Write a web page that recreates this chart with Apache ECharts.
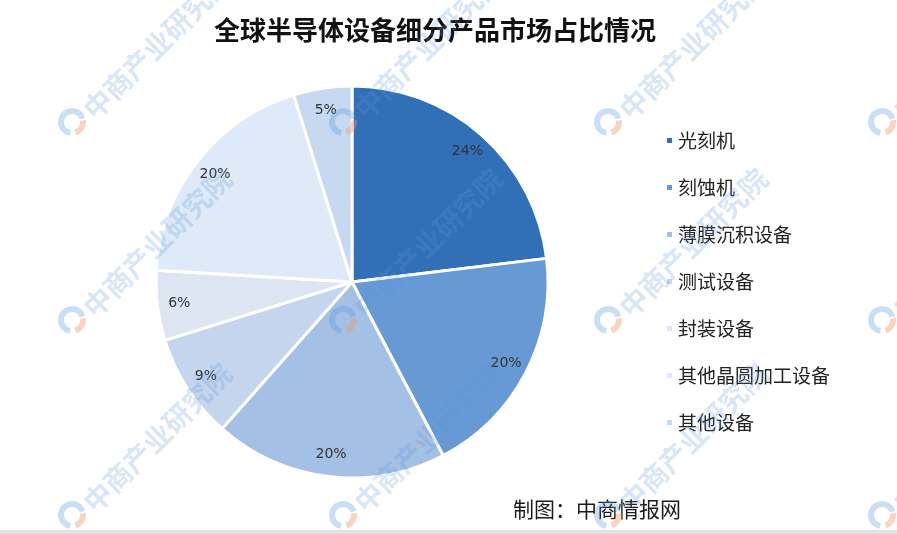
<!DOCTYPE html>
<html>
<head>
<meta charset="utf-8">
<script src="https://cdn.jsdelivr.net/npm/echarts@6/dist/echarts.min.js"></script>
<style>
html,body{margin:0;padding:0;background:#fff;}
#chart{width:897px;height:534px;}
</style>
</head>
<body>
<div id="chart"></div>
<script>
var titleText = '全球半导体设备细分产品市场占比情况';
var sourceText = '制图：中商情报网';
var categories = ['光刻机', '刻蚀机', '薄膜沉积设备', '测试设备', '封装设备', '其他晶圆加工设备', '其他设备'];
var values = [24, 20, 20, 9, 6, 20, 5];
var colors = ['#3170B7', '#6799D5', '#A4C0E5', '#C4D5ED', '#DDE5F2', '#DEEAF8', '#C7D9F0'];
var watermarkText = '中商产业研究院';
var wmCols = [72, 343, 608, 882];
var wmRows = [122, 320, 515];

var chart = echarts.init(document.getElementById('chart'));
var FONT = '"Noto Sans CJK SC", "Noto Sans", sans-serif';

var graphics = [];
wmRows.forEach(function (y) {
  wmCols.forEach(function (x) {
    graphics.push({
      type: 'arc', z: 100, silent: true,
      shape: { cx: x, cy: y, r: 11, startAngle: Math.PI * 0.55, endAngle: Math.PI * 1.9 },
      style: { stroke: 'rgba(80,150,220,0.3)', lineWidth: 6, fill: null }
    });
    graphics.push({
      type: 'arc', z: 100, silent: true,
      shape: { cx: x, cy: y, r: 11, startAngle: Math.PI * 1.95, endAngle: Math.PI * 2.4 },
      style: { stroke: 'rgba(240,150,100,0.4)', lineWidth: 6, fill: null }
    });
    graphics.push({
      type: 'text', z: 100, silent: true,
      x: x + 16, y: y - 8, rotation: Math.PI / 4,
      style: {
        text: watermarkText, fill: 'rgba(90,150,215,0.24)',
        font: 'bold 28px ' + FONT, textAlign: 'left', textVerticalAlign: 'middle'
      }
    });
  });
});
graphics.push({
  type: 'rect', z: 101, silent: true,
  shape: { x: 0, y: 530, width: 897, height: 4 },
  style: { fill: '#e2e2e2' }
});

var data = categories.map(function (n, i) {
  return { name: n, value: values[i], itemStyle: { color: colors[i] } };
});
var labelData = categories.map(function (n, i) {
  return { name: n, value: values[i] };
});

chart.setOption({
  backgroundColor: '#ffffff',
  animation: false,
  title: [{
    text: titleText, left: 430, top: 12, textAlign: 'center',
    textStyle: { fontFamily: FONT, fontSize: 26, fontWeight: 'bold', color: '#111' }
  }, {
    text: sourceText, left: 508, top: 494,
    textStyle: { fontFamily: FONT, fontSize: 21, fontWeight: 'normal', color: '#1a1a1a' }
  }],
  legend: {
    orient: 'vertical', left: 660, top: 125,
    itemWidth: 7, itemHeight: 7, itemGap: 26, icon: 'rect',
    data: categories,
    textStyle: { fontFamily: FONT, fontSize: 19, color: '#222', padding: [0, 0, 0, 0], lineHeight: 21 }
  },
  graphic: graphics,
  series: [{
    type: 'pie', center: [352, 282], radius: [0, 196],
    startAngle: 90, clockwise: true,
    data: data, silent: true,
    itemStyle: { borderColor: '#ffffff', borderWidth: 3 },
    label: { show: false }, labelLine: { show: false }
  }, {
    type: 'pie', center: [352, 282], radius: [146, 196],
    startAngle: 90, clockwise: true,
    data: labelData, silent: true,
    itemStyle: { color: 'rgba(0,0,0,0)', borderWidth: 0 },
    label: {
      show: true, position: 'inside', formatter: '{c}%',
      fontFamily: '"DejaVu Sans", sans-serif', fontSize: 14, color: '#333'
    },
    labelLine: { show: false }
  }]
});
</script>
</body>
</html>
